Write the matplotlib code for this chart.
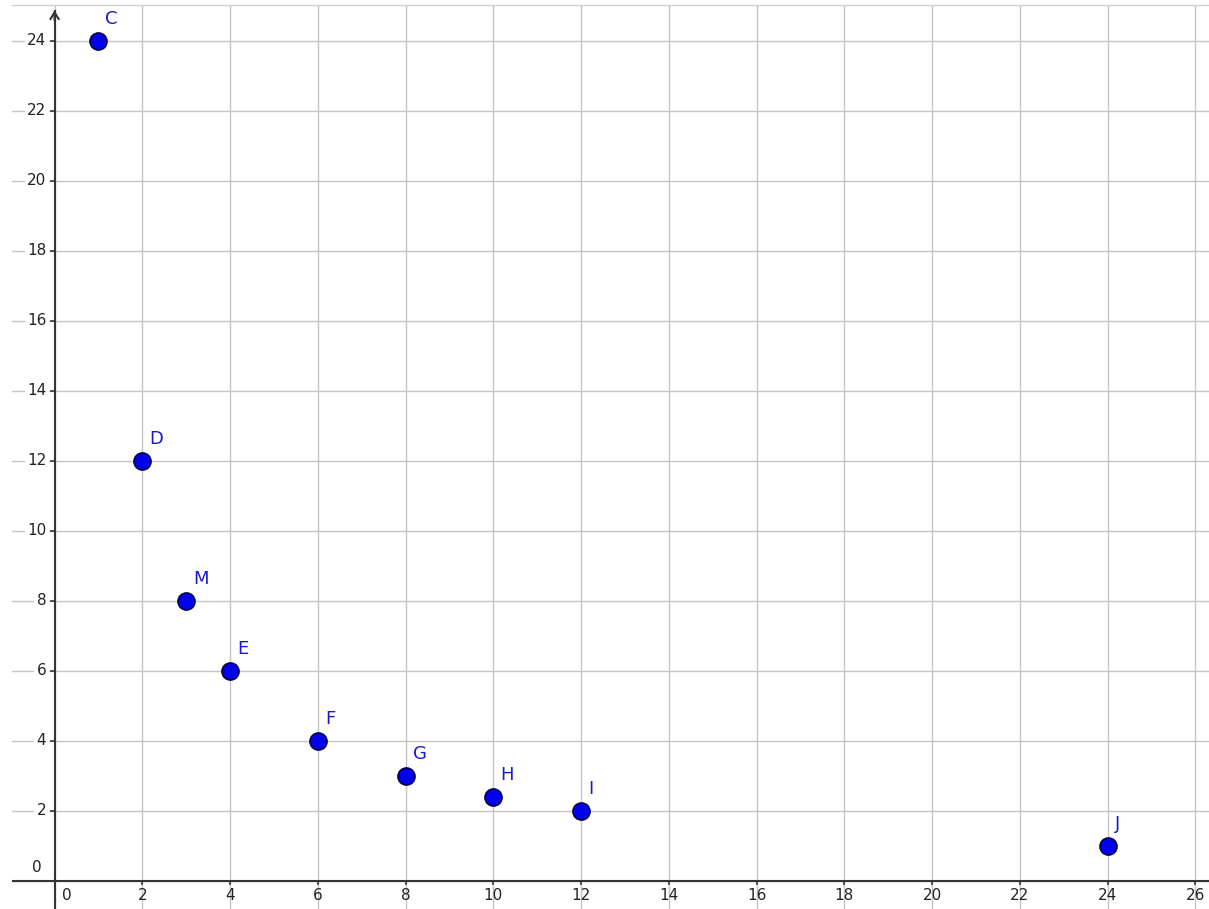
import matplotlib
matplotlib.use("Agg")
import matplotlib.pyplot as plt
import numpy as np

# Data
labels = ["C", "D", "M", "E", "F", "G", "H", "I", "J"]
xs = [1, 2, 3, 4, 6, 8, 10, 12, 24]
ys = [24, 12, 8, 6, 4, 3, 2.4, 2, 1]
xticks = list(range(0, 27, 2))
yticks = list(range(0, 25, 2))

W, H = 1209, 909
fig = plt.figure(figsize=(W / 100, H / 100), dpi=100)
ax = fig.add_axes([12 / W, 0, 1 - 12 / W, (H - 5) / H])
ax.set_xlim(-0.97, 26.31)
ax.set_ylim(-0.81, 25.02)

for s in ["left", "right", "bottom"]:
    ax.spines[s].set_visible(False)
ax.spines["top"].set_color("#d0d0d0")
ax.spines["top"].set_linewidth(1.0)

ax.set_xticks(xticks)
ax.set_yticks(yticks)
ax.tick_params(length=0, labelbottom=False, labelleft=False)
ax.grid(True, color="#c4c4c4", linewidth=1.0)
ax.set_axisbelow(True)

# axes lines
axis_col = "#333333"
ax.axhline(0, color=axis_col, linewidth=1.5, zorder=2)
ax.plot([0, 0], [-0.81, 24.85], color=axis_col, linewidth=1.5, zorder=2, clip_on=False)
ax.annotate("", xy=(0, 24.95), xytext=(0, 24.5),
            arrowprops=dict(arrowstyle="->,head_length=0.5,head_width=0.3",
                            color=axis_col, lw=1.5), zorder=2)

# tick marks and labels
fs = 11
for xv in xticks:
    if xv != 0:
        ax.plot([xv, xv], [0, -0.1], color=axis_col, linewidth=1.2, zorder=2)
        ax.annotate(str(xv), (xv, 0), xytext=(0, -5), textcoords="offset points",
                    ha="center", va="top", fontsize=fs, color="#222222")
    else:
        ax.annotate("0", (0, 0), xytext=(9, -5), textcoords="offset points",
                    ha="center", va="top", fontsize=fs, color="#222222")
for yv in yticks:
    if yv != 0:
        ax.plot([0, -0.08], [yv, yv], color=axis_col, linewidth=1.2, zorder=2)
        ax.annotate(str(yv), (0, yv), xytext=(-6, 0), textcoords="offset points",
                    ha="right", va="center", fontsize=fs, color="#222222",
                    bbox=dict(boxstyle="square,pad=0.15", fc="white", ec="none"))
    else:
        ax.annotate("0", (0, 0), xytext=(-9, 4), textcoords="offset points",
                    ha="right", va="bottom", fontsize=fs, color="#222222")

# points
ax.scatter(xs, ys, s=150, color="#0000ee", edgecolors="#000044", linewidths=1.2, zorder=5)
for lab, x, y in zip(labels, xs, ys):
    ax.annotate(lab, (x, y), xytext=(5, 9), textcoords="offset points",
                ha="left", va="bottom", fontsize=13, color="#1a1acc", zorder=6)

fig.savefig("out.png", dpi=100)
